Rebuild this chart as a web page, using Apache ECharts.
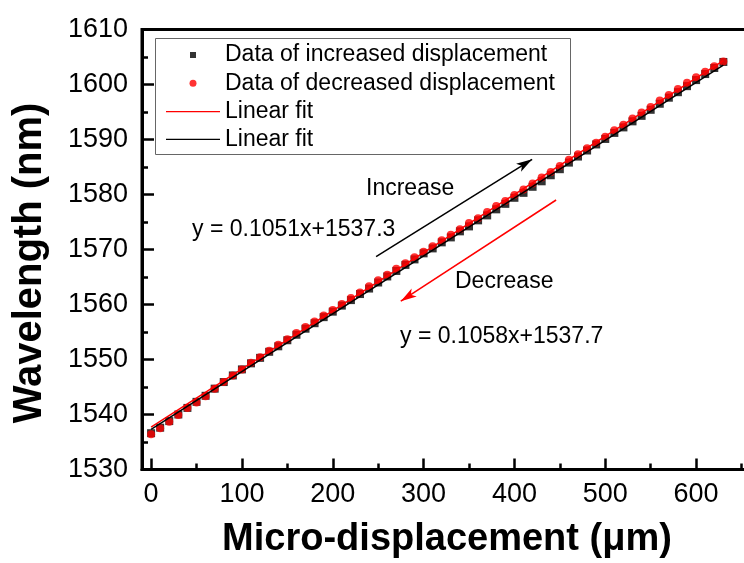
<!DOCTYPE html>
<html>
<head>
<meta charset="utf-8">
<script src="https://cdn.jsdelivr.net/npm/echarts@6/dist/echarts.min.js"></script>
<style>
  html, body { margin: 0; padding: 0; background: #fff; }
  #chart { width: 744px; height: 563px; }
</style>
</head>
<body>
<div id="chart"></div>
<script>
// Micro-displacement (µm) of each measurement step
const displacement = [0,10,20,30,40,50,60,70,80,90,100,110,120,130,140,150,160,170,180,190,200,210,220,230,240,250,260,270,280,290,300,310,320,330,340,350,360,370,380,390,400,410,420,430,440,450,460,470,480,490,500,510,520,530,540,550,560,570,580,590,600,610,620,630];

// Wavelength (nm) while the displacement is increased
const wavelengthIncrease = [1536.6,1537.6,1538.8,1540.0,1541.2,1542.3,1543.4,1544.7,1545.9,1547.1,
  1548.2,1549.3,1550.3,1551.4,1552.4,1553.5,1554.5,1555.6,1556.6,1557.7,
  1558.7,1559.8,1560.8,1561.9,1562.9,1564.0,1565.1,1566.1,1567.2,1568.2,
  1569.3,1570.2,1571.3,1572.2,1573.3,1574.2,1575.3,1576.2,1577.3,1578.3,
  1579.4,1580.3,1581.4,1582.4,1583.5,1584.6,1585.8,1586.9,1588.0,1589.1,
  1590.1,1591.2,1592.2,1593.3,1594.3,1595.4,1596.5,1597.6,1598.6,1599.7,
  1600.8,1601.9,1603.0,1604.1];

// Wavelength (nm) while the displacement is decreased
const wavelengthDecrease = [1536.4,1537.5,1538.7,1539.9,1541.2,1542.2,1543.3,1544.7,1545.9,1547.1,
  1548.2,1549.4,1550.4,1551.6,1552.7,1553.7,1554.8,1555.9,1556.9,1558.0,
  1559.0,1560.1,1561.2,1562.2,1563.3,1564.4,1565.4,1566.5,1567.5,1568.6,
  1569.6,1570.6,1571.7,1572.7,1573.7,1574.8,1575.7,1576.8,1577.9,1578.8,
  1579.9,1580.9,1582.0,1583.1,1584.1,1585.2,1586.3,1587.3,1588.4,1589.4,
  1590.5,1591.7,1592.7,1593.8,1594.9,1595.9,1597.1,1598.1,1599.2,1600.3,
  1601.3,1602.3,1603.3,1604.2];

// Linear fits: y = slope * x + intercept
const fitIncrease = { slope: 0.1051, intercept: 1537.3 };
const fitDecrease = { slope: 0.1058, intercept: 1537.7 };
const fitRange = [0, 630];

// Axis ticks
const xMajorTicks = [0, 100, 200, 300, 400, 500, 600];
const xMinorTicks = [50, 150, 250, 350, 450, 550, 650];
const yTickLabels = [1530, 1540, 1550, 1560, 1570, 1580, 1590, 1600, 1610];

const FONT = 'Liberation Sans, Arial, Helvetica, sans-serif';
const NAME_INC = 'Data of increased displacement';
const NAME_DEC = 'Data of decreased displacement';
const NAME_FIT_DEC = 'Linear fit (decrease)';
const NAME_FIT_INC = 'Linear fit (increase)';

// legend keys: 54px wide boxes with the marker centred inside
const ICON_SQUARE = 'path://M0,0M54,6M24,0H30V6H24Z';
const ICON_DOT = 'path://M0,0M54,7M30.5,3.5A3.5,3.5,0,1,1,23.5,3.5A3.5,3.5,0,1,1,30.5,3.5Z';
const ICON_LINE = 'path://M0,0H54V1.3H0Z';

const pairs = (xsArr, ysArr) => xsArr.map((x, i) => [x, ysArr[i]]);
const fitLine = f => fitRange.map(x => [x, +(f.slope * x + f.intercept).toFixed(4)]);

const chart = echarts.init(document.getElementById('chart'), null, { renderer: 'canvas' });

const legendRow = (name, top, icon, w, h) => ({
  show: true,
  data: [{ name: name, icon: icon }],
  orient: 'vertical',
  left: 166,
  top: top,
  padding: 0,
  itemWidth: w,
  itemHeight: h,
  itemGap: 0,
  symbolKeepAspect: true,
  selectedMode: false,
  formatter: n => n.indexOf('Linear fit') === 0 ? 'Linear fit' : n,
  textStyle: { fontFamily: FONT, fontSize: 23, color: '#000', lineHeight: 24 }
});

const axisLineStyle = { color: '#000', width: 3 };
const tickStyle = { color: '#000', width: 2.5 };

const option = {
  animation: false,
  backgroundColor: '#fff',
  grid: {
    left: 142, top: 29.5, width: 608.6, height: 440,
    outerBoundsMode: 'none', containLabel: false,
    show: true, borderColor: '#000', borderWidth: 3, backgroundColor: 'transparent'
  },
  xAxis: [{
    type: 'value', min: -10, max: 660, position: 'bottom',
    axisLine: { show: true, onZero: false, lineStyle: axisLineStyle },
    axisTick: { show: true, inside: true, length: 11, lineStyle: tickStyle, customValues: xMajorTicks },
    axisLabel: { show: true, customValues: xMajorTicks, fontFamily: FONT, fontSize: 27, color: '#000', margin: 12 },
    splitLine: { show: false }
  }, {
    type: 'value', min: -10, max: 660, position: 'bottom',
    axisLine: { show: false },
    axisTick: { show: true, inside: true, length: 6, lineStyle: tickStyle, customValues: xMinorTicks },
    axisLabel: { show: false },
    splitLine: { show: false }
  }],
  yAxis: {
    type: 'value', min: yTickLabels[0], max: yTickLabels[yTickLabels.length - 1], interval: 10,
    axisLine: { show: true, onZero: false, lineStyle: axisLineStyle },
    axisTick: { show: true, inside: true, length: 12, lineStyle: tickStyle },
    minorTick: { show: true, splitNumber: 2, length: 6, lineStyle: tickStyle },
    axisLabel: { fontFamily: FONT, fontSize: 27, color: '#000', margin: 14, formatter: v => String(v) },
    splitLine: { show: false }
  },
  legend: [
    legendRow(NAME_INC, 43, ICON_SQUARE, 54, 6),
    legendRow(NAME_DEC, 71.3, ICON_DOT, 54, 7),
    legendRow(NAME_FIT_DEC, 99.7, ICON_LINE, 54, 1.3),
    legendRow(NAME_FIT_INC, 127.3, ICON_LINE, 54, 1.3)
  ],
  series: [{
    name: NAME_INC, type: 'scatter', symbol: 'rect', symbolSize: 8,
    itemStyle: { color: '#000' }, z: 2, silent: true,
    data: pairs(displacement, wavelengthIncrease)
  }, {
    name: NAME_DEC, type: 'scatter', symbol: 'circle', symbolSize: 8,
    itemStyle: { color: '#ff0000' }, z: 3, silent: true,
    data: pairs(displacement, wavelengthDecrease)
  }, {
    name: NAME_FIT_DEC, type: 'line', symbol: 'none', z: 4, silent: true,
    lineStyle: { color: '#ff0000', width: 1.5 },
    itemStyle: { color: '#ff0000' },
    data: fitLine(fitDecrease),
    markLine: {
      silent: true, symbol: ['none', 'arrow'], symbolSize: [7, 16],
      label: { show: false },
      lineStyle: { color: '#ff0000', width: 1.5, type: 'solid' },
      data: [[{ coord: [445.9, 1579.0] }, { coord: [274.9, 1560.6] }]]
    }
  }, {
    name: NAME_FIT_INC, type: 'line', symbol: 'none', z: 5, silent: true,
    lineStyle: { color: '#000', width: 1.5 },
    itemStyle: { color: '#000' },
    data: fitLine(fitIncrease),
    markLine: {
      silent: true, symbol: ['none', 'arrow'], symbolSize: [7, 16],
      label: { show: false },
      lineStyle: { color: '#000', width: 1.5, type: 'solid' },
      data: [[{ coord: [247.7, 1568.7] }, { coord: [419.5, 1586.4] }]]
    }
  }],
  graphic: [
    { type: 'rect', shape: { x: 155.5, y: 38.5, width: 415, height: 116 },
      style: { fill: 'none', stroke: '#666', lineWidth: 1 }, silent: true },
    { type: 'text', x: 366, y: 189, silent: true,
      style: { text: 'Increase', fontFamily: FONT, fontSize: 23, fill: '#000', align: 'left', verticalAlign: 'middle' } },
    { type: 'text', x: 192, y: 230, silent: true,
      style: { text: 'y = 0.1051x+1537.3', fontFamily: FONT, fontSize: 23, fill: '#000', align: 'left', verticalAlign: 'middle' } },
    { type: 'text', x: 455, y: 282, silent: true,
      style: { text: 'Decrease', fontFamily: FONT, fontSize: 23, fill: '#000', align: 'left', verticalAlign: 'middle' } },
    { type: 'text', x: 400, y: 337, silent: true,
      style: { text: 'y = 0.1058x+1537.7', fontFamily: FONT, fontSize: 23, fill: '#000', align: 'left', verticalAlign: 'middle' } },
    { type: 'text', x: 30, y: 263, rotation: Math.PI / 2, silent: true,
      style: { text: 'Wavelength (nm)', fontFamily: FONT, fontWeight: 'bold', fontSize: 40, fill: '#000', align: 'center', verticalAlign: 'middle' } },
    { type: 'text', x: 447, y: 540, silent: true,
      style: { text: 'Micro-displacement (\u03bcm)', fontFamily: FONT, fontWeight: 'bold', fontSize: 38, fill: '#000', align: 'center', verticalAlign: 'middle' } }
  ]
};

chart.setOption(option);
</script>
</body>
</html>
